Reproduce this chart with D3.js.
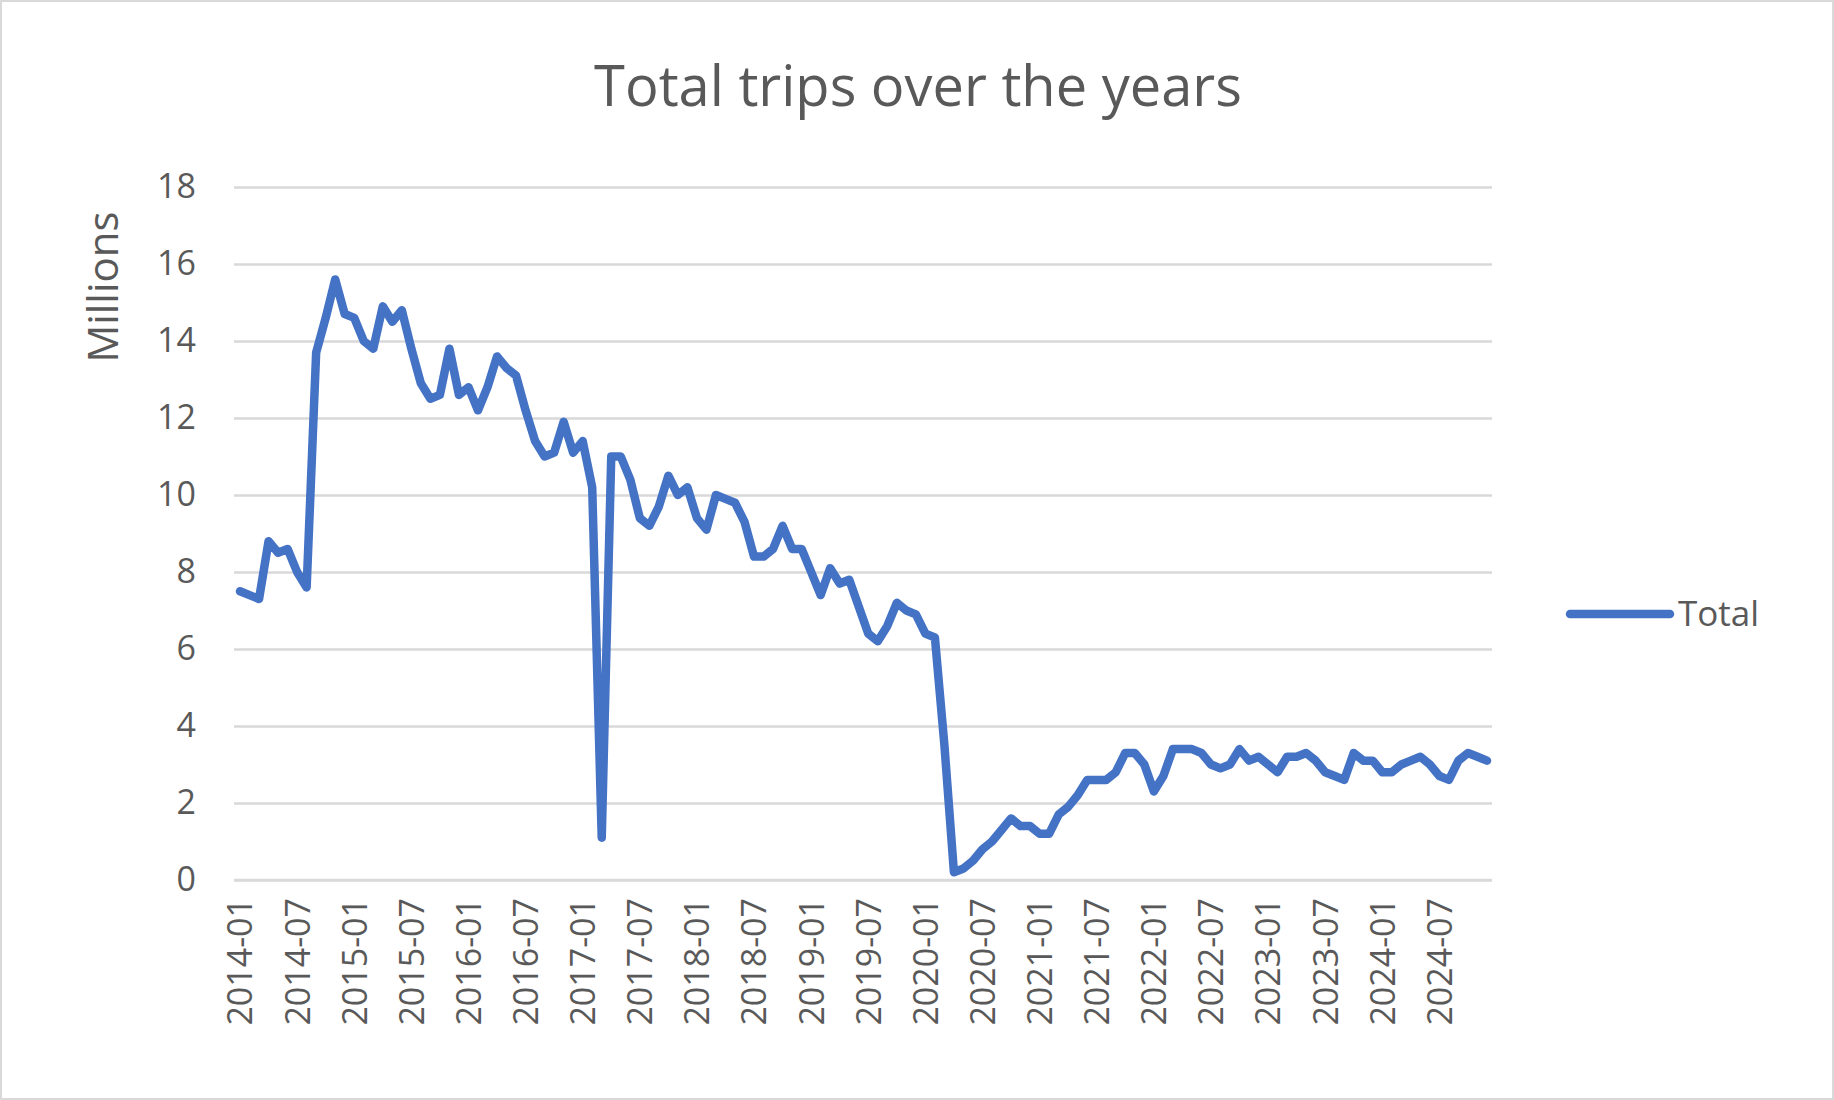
<!DOCTYPE html>
<html><head><meta charset="utf-8">
<script src="https://cdn.jsdelivr.net/npm/d3@7"></script>
<style>body{margin:0;background:#fff}text{font-family:"Open Sans","Noto Sans",sans-serif;fill:#595959}</style>
</head><body><svg id="c" width="1834" height="1100"></svg>
<script>
const values = [7.5,7.4,7.3,8.8,8.5,8.6,8.0,7.6,13.7,14.6,15.6,14.7,14.6,14.0,13.8,14.9,14.5,14.8,13.8,12.9,12.5,12.6,13.8,12.6,12.8,12.2,12.8,13.6,13.3,13.1,12.2,11.4,11.0,11.1,11.9,11.1,11.4,10.2,
1.1,11.0,11.0,10.4,9.4,9.2,9.7,10.5,10.0,10.2,9.4,9.1,10.0,9.9,9.8,9.3,8.4,8.4,8.6,9.2,8.6,8.6,8.0,7.4,8.1,7.7,7.8,7.1,6.4,6.2,6.6,7.2,7.0,6.9,6.4,6.3,3.5,0.2,0.3,0.5,0.8,1.0,1.3,1.6,1.4,1.4,1.2,1.2,1.7,1.9,2.2,2.6,2.6,2.6,2.8,3.3,3.3,3.0,2.3,2.7,3.4,3.4,3.4,3.3,3.0,2.9,3.0,3.4,3.1,3.2,3.0,2.8,3.2,3.2,3.3,3.1,2.8,2.7,2.6,3.3,3.1,3.1,2.8,2.8,3.0,3.1,3.2,3.0,2.7,2.6,3.1,3.3,3.2,3.1];
const months = values.map((v,i)=>{const y=2014+Math.floor(i/12),m=i%12+1;return y+"-"+String(m).padStart(2,"0");});
const tickLabels = months.filter((m,i)=>i%6===0);
const yTicks = [0,2,4,6,8,10,12,14,16,18];
const seriesName = "Total";

const svg = d3.select("#c");
svg.append("rect").attr("x",1).attr("y",1).attr("width",1832).attr("height",1098).attr("fill","#fff").attr("stroke","#d9d9d9").attr("stroke-width",2);
const x = d3.scalePoint().domain(months).range([240,1487]);
const y = d3.scaleLinear().domain([0,18]).range([880,187]);

const ya = svg.append("g").attr("transform","translate(234,0)")
  .call(d3.axisLeft(y).tickValues(yTicks).tickSize(-1258).tickPadding(38));
ya.select(".domain").remove();
ya.selectAll("line").attr("stroke","#d9d9d9").attr("stroke-width",2.5);
ya.selectAll("text").style("font-size","34px").attr("fill","#595959");

const xa = svg.append("g").attr("transform","translate(0,880)")
  .call(d3.axisBottom(x).tickValues(tickLabels).tickSize(0));
xa.select(".domain").attr("stroke","#d9d9d9").attr("stroke-width",2.5).attr("d","M234,0H1492");
xa.selectAll("text").style("font-size","34px").attr("text-anchor","end")
  .attr("transform","rotate(-90)").attr("x",-18).attr("y",0).attr("dy","0.35em");

svg.append("path").datum(values).attr("fill","none").attr("stroke","#4472C4").attr("stroke-width",8.5).attr("stroke-linejoin","round").attr("stroke-linecap","round")
  .attr("d",d3.line().x((d,i)=>x(months[i])).y(d=>y(d)));

svg.append("text").attr("x",918).attr("y",106).attr("text-anchor","middle").style("font-size","56px").text("Total trips over the years");
svg.append("text").attr("transform","translate(118,287) rotate(-90)").attr("text-anchor","middle").style("font-size","42px").text("Millions");
svg.append("line").attr("x1",1570).attr("x2",1670).attr("y1",614).attr("y2",614).attr("stroke","#4472C4").attr("stroke-width",8.5).attr("stroke-linecap","round");
svg.append("text").attr("x",1678).attr("y",614).attr("dy","0.35em").style("font-size","35px").text(seriesName);
</script></body></html>
